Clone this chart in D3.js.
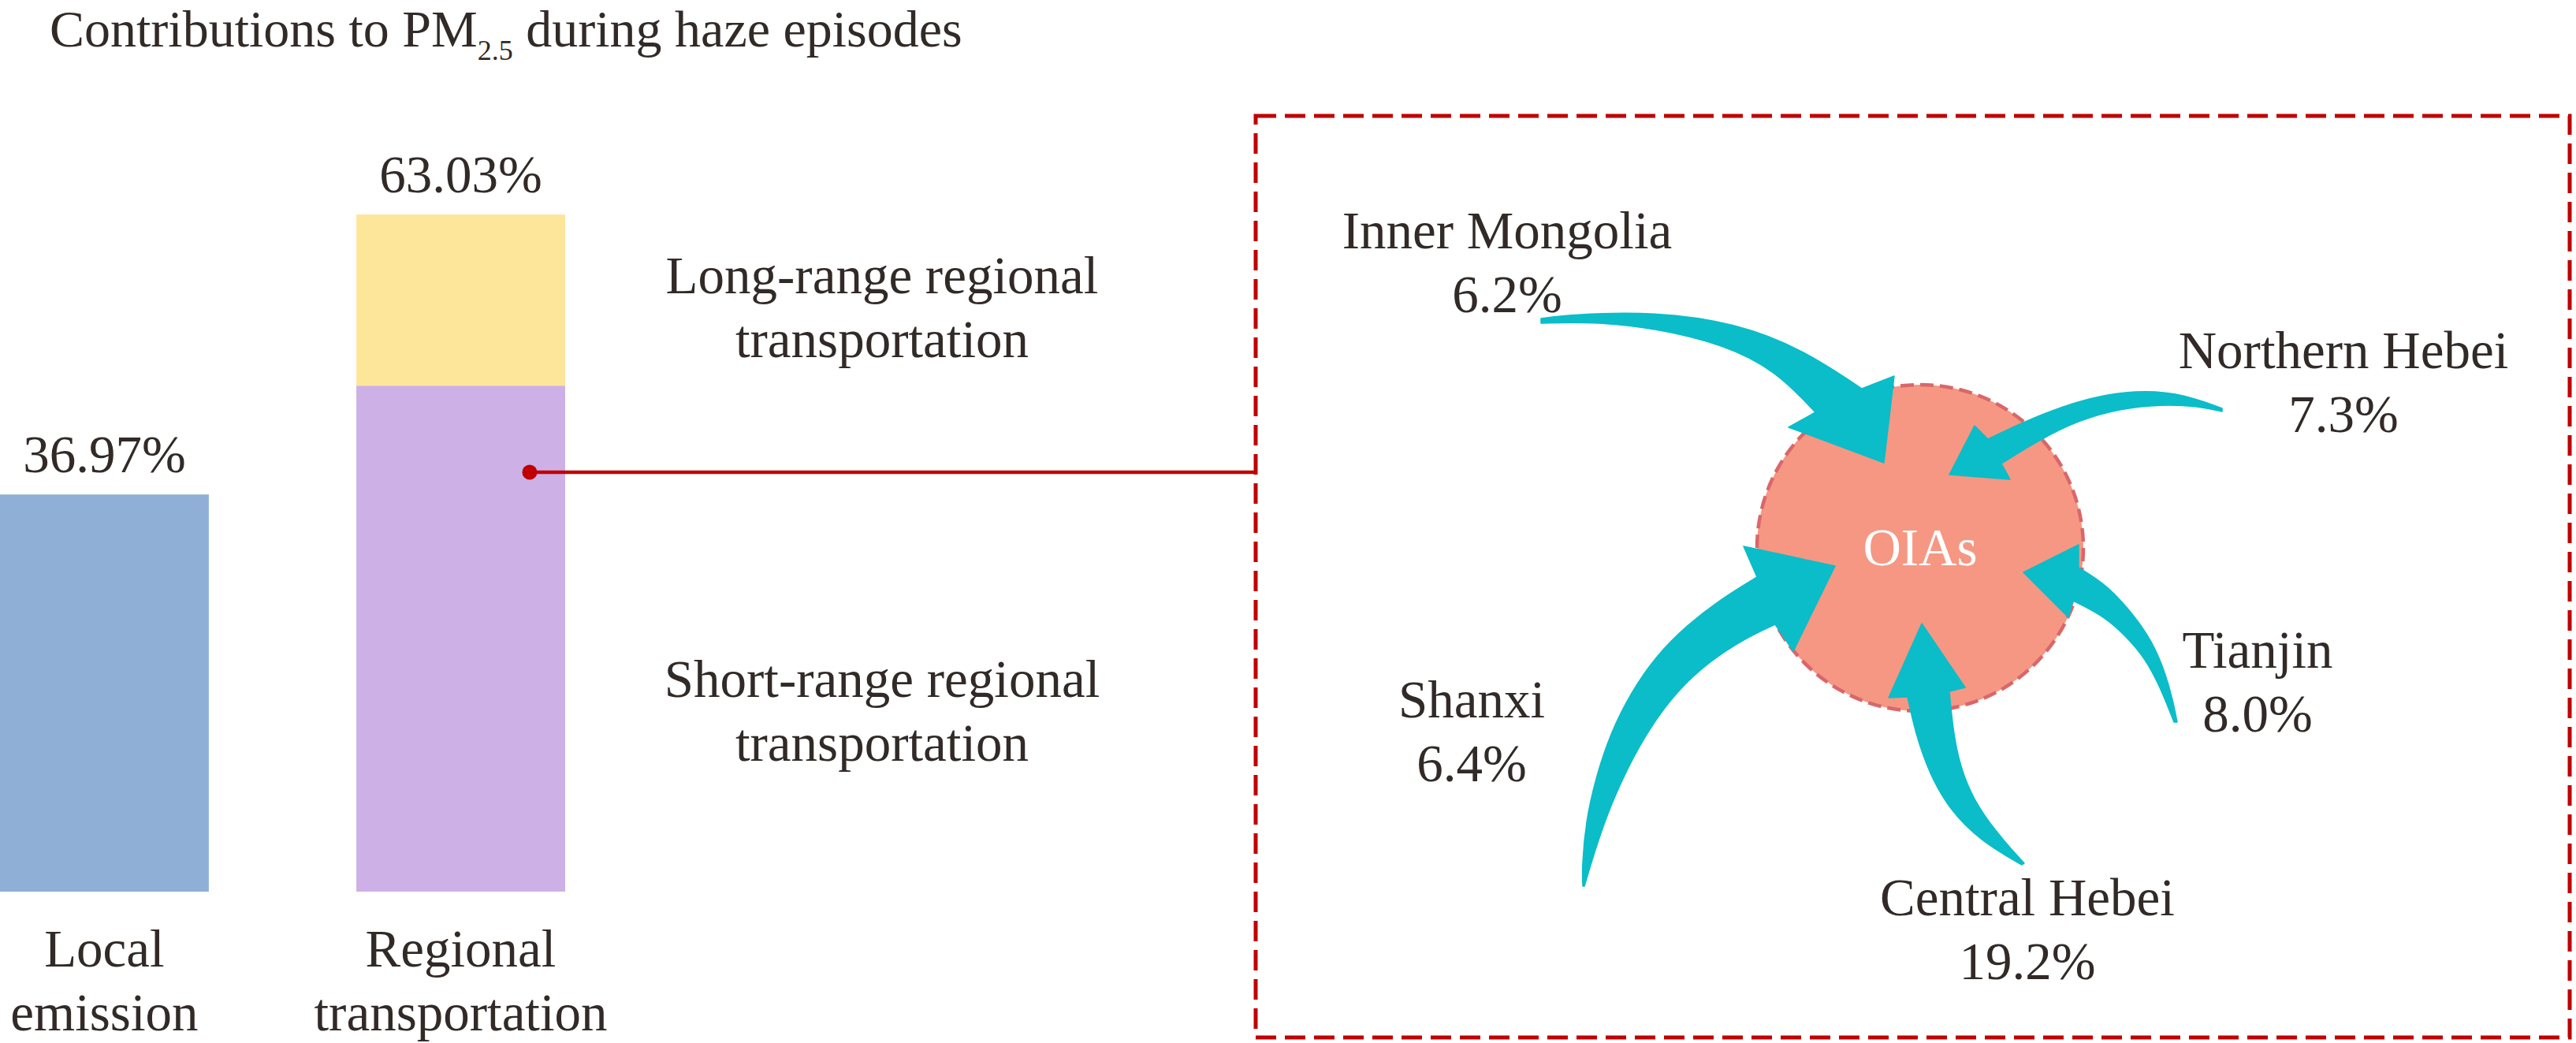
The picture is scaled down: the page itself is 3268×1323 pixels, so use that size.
<!DOCTYPE html>
<html>
<head>
<meta charset="utf-8">
<script src="https://cdn.jsdelivr.net/npm/d3@7"></script>
<style>
  html, body { margin: 0; padding: 0; background: #ffffff; }
  svg { display: block; }
  text { font-family: "Liberation Serif", "Times New Roman", serif; fill: #312a27; }
</style>
</head>
<body>
<svg id="chart" width="3268" height="1323"></svg>
<script>
// ---------------- DATA ----------------
const barCategories = ["Local emission", "Regional transportation"];
const barLabelLines = [["Local", "emission"], ["Regional", "transportation"]];
const barTotals = [36.97, 63.03];
const segmentNames = ["Short-range regional transportation", "Long-range regional transportation"];
const segmentValues = [47.10, 15.93];           // stacked inside "Regional transportation"
const segmentLabelLines = [["Short-range regional", "transportation"], ["Long-range regional", "transportation"]];

const regionNames = ["Inner Mongolia", "Northern Hebei", "Tianjin", "Central Hebei", "Shanxi"];
const regionShares = [6.2, 7.3, 8.0, 19.2, 6.4];
const receptorName = "OIAs";
const titleParts = ["Contributions to PM", "2.5", " during haze episodes"];

// ---------------- LAYOUT / STYLE ----------------
const colors = {
  local: "#8fafd7", short: "#cdb0e6", long: "#fde59a",
  text: "#312a27", red: "#c00000", arrow: "#0bbdc8",
  circleFill: "#f69783", circleStroke: "#d9676a"
};
const fontSize = 67;
const lineGap = 81;

// label anchor points for each region (center x, baseline of first line)
const regionLabelPos = {
  "Inner Mongolia": [1912, 315],
  "Northern Hebei": [2973, 467],
  "Tianjin": [2864, 847],
  "Central Hebei": [2572, 1161],
  "Shanxi": [1867, 910]
};
// arrow outlines: edgeA (tail -> neck), head (barb, tip, barb), edgeB (neck -> tail)
const arrowShapes = {
  "Inner Mongolia": {
    edgeA: [[1955,404],[1990,399],[2100,395],[2203,410],[2287,443],[2362,493]],
    head: [[2403,477],[2390,587],[2269,542]],
    edgeB: [[2303,523],[2253,470],[2187,437],[2100,416],[2020,408],[1955,410]]
  },
  "Northern Hebei": {
    edgeA: [[2819,518],[2770,500],[2723,495],[2670,500],[2617,515],[2563,537],[2522,557]],
    head: [[2505,540],[2473,602],[2550,608]],
    edgeB: [[2539,588],[2587,558],[2637,533],[2690,518],[2743,513],[2787,515],[2819,522]]
  },
  "Tianjin": {
    edgeA: [[2762,916],[2757,890],[2747,853],[2730,813],[2707,780],[2673,742],[2637,720]],
    head: [[2637,691],[2567,726],[2624,783]],
    edgeB: [[2630,762],[2670,782],[2697,807],[2720,833],[2740,870],[2758,916]]
  },
  "Central Hebei": {
    edgeA: [[2568,1095],[2530,1053],[2503,1013],[2487,973],[2478,930],[2473,877]],
    head: [[2493,872],[2438,791],[2396,885]],
    edgeB: [[2420,884],[2430,930],[2447,980],[2473,1027],[2513,1067],[2565,1097]]
  },
  "Shanxi": {
    edgeA: [[2008,1124],[2007,1100],[2012,1040],[2025,985],[2043,930],[2070,877],[2100,833],[2140,793],[2183,760],[2229,732]],
    head: [[2212,693],[2328,718],[2275,826]],
    edgeB: [[2252,792],[2213,810],[2167,840],[2127,877],[2093,923],[2063,977],[2040,1030],[2023,1080],[2010,1124]]
  }
};
const circle = { cx: 2436, cy: 695, r: 207 };
const box = { x0: 1593, y0: 147, x1: 3260, y1: 1316 };
const connectorY = 599;

// ---------------- DRAW ----------------
const svg = d3.select("#chart");
const fmt2 = d3.format(".2f");
const fmt1 = d3.format(".1f");

// title
const title = svg.append("text").attr("x", 63).attr("y", 59).attr("font-size", 66);
title.append("tspan").text(titleParts[0]);
title.append("tspan").attr("font-size", 36).attr("dy", 17).text(titleParts[1]);
title.append("tspan").attr("dy", -17).text(titleParts[2]);

// scales
const x = d3.scaleBand().domain(barCategories).range([0, 717]).paddingInner(0.414).paddingOuter(0);
const y = d3.scaleLinear().domain([0, 83]).range([1131, 0]);

// local bar
svg.append("rect")
  .attr("x", x(barCategories[0])).attr("width", x.bandwidth())
  .attr("y", y(barTotals[0])).attr("height", y(0) - y(barTotals[0]))
  .attr("fill", colors.local);

// stacked regional bar
const stack = [];
let acc = 0;
segmentValues.forEach((v, i) => { stack.push({ name: segmentNames[i], y0: acc, y1: acc + v, i }); acc += v; });
svg.selectAll("rect.seg").data(stack).enter().append("rect")
  .attr("class", "seg")
  .attr("x", x(barCategories[1])).attr("width", x.bandwidth())
  .attr("y", d => y(d.y1)).attr("height", d => y(d.y0) - y(d.y1))
  .attr("fill", d => d.i === 0 ? colors.short : colors.long);

// bar value labels
svg.selectAll("text.val").data(barCategories).enter().append("text")
  .attr("class", "val")
  .attr("x", d => x(d) + x.bandwidth() / 2)
  .attr("y", (d, i) => y(barTotals[i]) - 28)
  .attr("text-anchor", "middle").attr("font-size", fontSize)
  .text((d, i) => fmt2(barTotals[i]) + "%");

// category labels
barCategories.forEach((c, i) => {
  const t = svg.append("text").attr("text-anchor", "middle").attr("font-size", fontSize);
  barLabelLines[i].forEach((ln, j) => {
    t.append("tspan").attr("x", x(c) + x.bandwidth() / 2).attr("y", 1226 + j * lineGap).text(ln);
  });
});

// segment labels
const segLabelX = 1119;
const segLabelY = [884, 372];
segmentLabelLines.forEach((lines, i) => {
  const t = svg.append("text").attr("text-anchor", "middle").attr("font-size", fontSize);
  lines.forEach((ln, j) => t.append("tspan").attr("x", segLabelX).attr("y", segLabelY[i] + j * lineGap).text(ln));
});

// dashed box
svg.append("rect")
  .attr("x", box.x0).attr("y", box.y0)
  .attr("width", box.x1 - box.x0).attr("height", box.y1 - box.y0)
  .attr("fill", "none").attr("stroke", colors.red).attr("stroke-width", 5)
  .attr("stroke-dasharray", "26,11");

// connector
const dotX = x(barCategories[1]) + x.bandwidth() * 0.83;
svg.append("line")
  .attr("x1", dotX).attr("x2", box.x0).attr("y1", connectorY).attr("y2", connectorY)
  .attr("stroke", colors.red).attr("stroke-width", 4.5);
svg.append("circle").attr("cx", dotX).attr("cy", connectorY).attr("r", 9.5).attr("fill", colors.red);

// receptor circle
svg.append("circle")
  .attr("cx", circle.cx).attr("cy", circle.cy).attr("r", circle.r)
  .attr("fill", colors.circleFill).attr("stroke", colors.circleStroke)
  .attr("stroke-width", 4.5).attr("stroke-dasharray", "17,8");

// arrows
const edge = d3.line().curve(d3.curveBasis);
function arrowPath(a) {
  const e1 = edge(a.edgeA);
  const e2 = edge(a.edgeB).replace(/^M/, "L");
  return e1 + "L" + a.head.map(p => p.join(",")).join("L") + e2 + "Z";
}
svg.selectAll("path.arrow").data(regionNames).enter().append("path")
  .attr("class", "arrow")
  .attr("d", d => arrowPath(arrowShapes[d]))
  .attr("fill", colors.arrow)
  .attr("stroke", colors.arrow).attr("stroke-width", 1.5).attr("stroke-linejoin", "round");

// receptor label
svg.append("text").attr("x", circle.cx).attr("y", 717)
  .attr("text-anchor", "middle").attr("font-size", 67)
  .style("fill", "#ffffff").text(receptorName);

// region labels
regionNames.forEach((r, i) => {
  const [cx, by] = regionLabelPos[r];
  const t = svg.append("text").attr("text-anchor", "middle").attr("font-size", fontSize);
  t.append("tspan").attr("x", cx).attr("y", by).text(r);
  t.append("tspan").attr("x", cx).attr("y", by + lineGap).text(fmt1(regionShares[i]) + "%");
});
</script>
</body>
</html>
